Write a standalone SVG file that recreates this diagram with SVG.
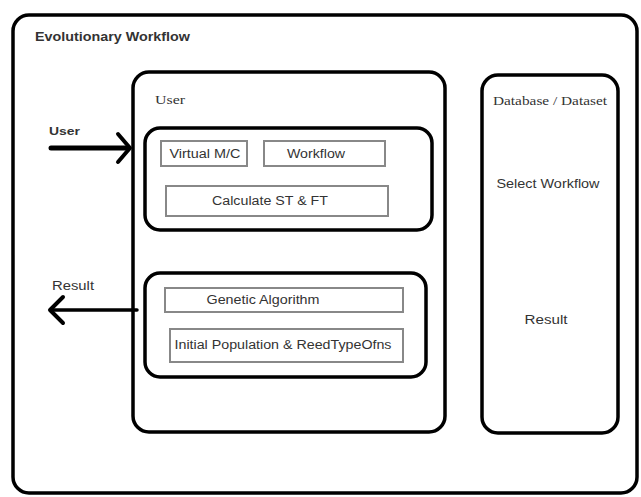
<svg xmlns="http://www.w3.org/2000/svg" width="641" height="497" viewBox="0 0 641 497">
<style>
.big{fill:none;stroke:#000;stroke-width:3.5}
.small{fill:#fff;stroke:#888;stroke-width:2}
.sans{font-family:"Liberation Sans",Arial,sans-serif;fill:#333}
.serif{font-family:"Liberation Serif","Times New Roman",serif;fill:#333}
.conn{fill:none;stroke:#000;stroke-linecap:round;stroke-linejoin:round}
</style>
<rect width="641" height="497" fill="#fff"/>
<g id="evolutionary-workflow">
<rect class="big" x="13" y="15" width="624" height="478" rx="16"/>
<text class="sans" x="35" y="41" font-size="12.5" font-weight="bold" textLength="155" lengthAdjust="spacingAndGlyphs">Evolutionary Workflow</text>
</g>
<g id="user">
<rect class="big" x="133" y="72" width="312" height="360" rx="16"/>
<text class="serif" x="155" y="104" font-size="13" textLength="30" lengthAdjust="spacingAndGlyphs">User</text>
</g>
<g id="input-group">
<rect class="big" x="145" y="128" width="287" height="102" rx="15"/>
</g>
<g id="virtual-mc">
<rect class="small" x="161" y="141" width="86" height="25"/>
<text class="sans" x="205" y="158" font-size="12" text-anchor="middle" textLength="71" lengthAdjust="spacingAndGlyphs">Virtual M/C</text>
</g>
<g id="workflow">
<rect class="small" x="264" y="141" width="121" height="25"/>
<text class="sans" x="316" y="158" font-size="12" text-anchor="middle" textLength="58" lengthAdjust="spacingAndGlyphs">Workflow</text>
</g>
<g id="calculate">
<rect class="small" x="166" y="186" width="222" height="30"/>
<text class="sans" x="270" y="205" font-size="12" text-anchor="middle" textLength="116" lengthAdjust="spacingAndGlyphs">Calculate ST &amp; FT</text>
</g>
<g id="algorithm-group">
<rect class="big" x="145" y="273" width="281" height="104" rx="15"/>
</g>
<g id="genetic-algorithm">
<rect class="small" x="165" y="288" width="238" height="24"/>
<text class="sans" x="263" y="304" font-size="12" text-anchor="middle" textLength="113" lengthAdjust="spacingAndGlyphs">Genetic Algorithm</text>
</g>
<g id="initial-population">
<rect class="small" x="170" y="329" width="233" height="33"/>
<text class="sans" x="283" y="349" font-size="12" text-anchor="middle" textLength="217" lengthAdjust="spacingAndGlyphs">Initial Population &amp; ReedTypeOfns</text>
</g>
<g id="database">
<rect class="big" x="482" y="75" width="136" height="358" rx="16"/>
<text class="serif" x="550" y="105" font-size="12.5" text-anchor="middle" textLength="114" lengthAdjust="spacingAndGlyphs">Database / Dataset</text>
<text class="sans" x="548" y="188" font-size="12" text-anchor="middle" textLength="103" lengthAdjust="spacingAndGlyphs">Select Workflow</text>
<text class="sans" x="546" y="324" font-size="12" text-anchor="middle" textLength="43" lengthAdjust="spacingAndGlyphs">Result</text>
</g>
<g id="connectors">
<path class="conn" d="M51 148 H128" stroke-width="5"/>
<path class="conn" d="M118 134 L130 148 L118 162" stroke-width="4"/>
<text class="sans" x="49" y="135" font-size="10" font-weight="bold" textLength="31" lengthAdjust="spacingAndGlyphs">User</text>
<path class="conn" d="M137 310 H52" stroke-width="3.5"/>
<path class="conn" d="M63 297 L50 310 L63 323" stroke-width="4"/>
<text class="sans" x="52" y="290" font-size="12" textLength="42" lengthAdjust="spacingAndGlyphs">Result</text>
</g>
</svg>
